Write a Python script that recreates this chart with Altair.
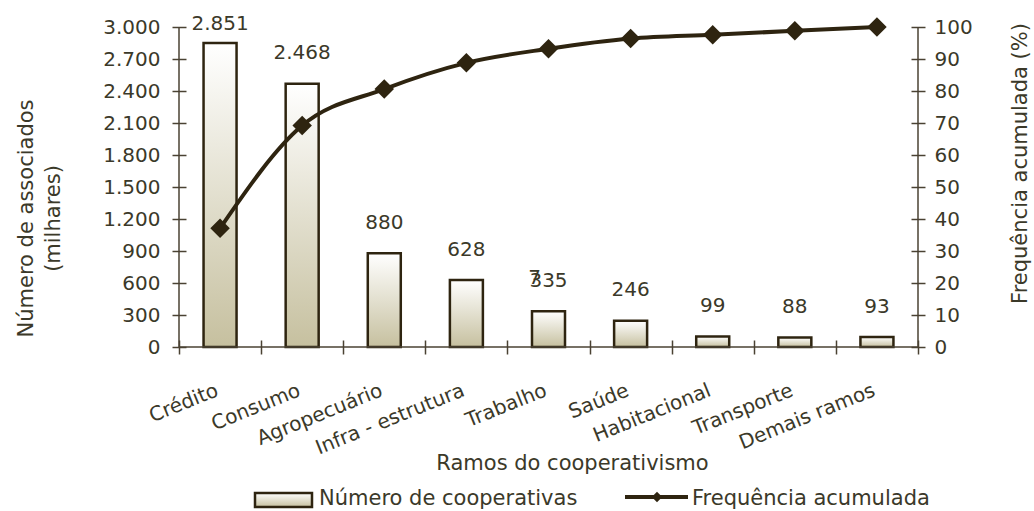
import altair as alt
import pandas as pd

# Ramos do cooperativismo e número de cooperativas (milhares de associados)
ramos = ["Crédito", "Consumo", "Agropecuário", "Infra - estrutura", "Trabalho",
         "Saúde", "Habitacional", "Transporte", "Demais ramos"]
cooperativas = [2851, 2468, 880, 628, 335, 246, 99, 88, 93]
freq_acumulada = [37.1, 69.2, 80.6, 88.8, 93.2, 96.4, 97.6, 98.8, 100.0]

ticks_esq = [0, 300, 600, 900, 1200, 1500, 1800, 2100, 2400, 2700, 3000]
ticks_dir = [0, 10, 20, 30, 40, 50, 60, 70, 80, 90, 100]

df = pd.DataFrame({"ramo": ramos, "coop": cooperativas, "freq": freq_acumulada})

W, H = 739, 320
FONT = "DejaVu Sans"
TXT = "#3b3929"
AXC = "#4a4233"
DARK = "#2e2410"
BAR_FILL = alt.LinearGradient(
    gradient="linear",
    stops=[alt.GradientStop(offset=0, color="#ffffff"),
           alt.GradientStop(offset=1, color="#c6c09f")],
    x1=0, x2=0, y1=0, y2=1,
)
PT_FMT = "replace(format(datum.value, ',d'), ',', '.')"

x_axis = alt.Axis(
    title="Ramos do cooperativismo", labelAngle=-22, labelAlign="right",
    labelBaseline="top", labelPadding=26, labelOffset=-7, offset=-7,
    tickSize=14, tickBand="extent", domain=False,
    titleX=393, titleY=123, titleAlign="center", titleBaseline="middle",
)

left_axis = alt.Axis(
    values=ticks_esq, labelExpr=PT_FMT, offset=-7, tickSize=14,
    domain=False, labelPadding=12, grid=False,
    title=["Número de associados", "(milhares)"], titleAngle=270,
    titleX=-160, titleY=191, titleAlign="center", titleBaseline="middle",
    titleLineHeight=27,
)

right_axis = alt.Axis(
    orient="right", values=ticks_dir, offset=-7, tickSize=14,
    domain=False, labelPadding=9, grid=False,
    title="Frequência acumulada (%)", titleAngle=270,
    titleX=109, titleY=136, titleAlign="center", titleBaseline="middle",
)

base = alt.Chart(df).encode(
    x=alt.X("ramo:N", sort=ramos,
            scale=alt.Scale(paddingInner=0, paddingOuter=0), axis=x_axis)
)

bars = base.mark_bar(size=33, color=BAR_FILL, stroke=DARK, strokeWidth=2.5).encode(
    y=alt.Y("coop:Q", scale=alt.Scale(domain=[0, 3000]), axis=left_axis)
)

# value labels sit above each bar, kept inside the plot at the top
labeled = base.transform_calculate(
    lbl="replace(format(datum.coop, ',d'), ',', '.')",
    pos="min(datum.coop + 190, 2935)",
)
labels = labeled.mark_text(baseline="bottom", font=FONT, fontSize=20, color=TXT).encode(
    y=alt.Y("pos:Q", scale=alt.Scale(domain=[0, 3000]), axis=left_axis),
    text="lbl:N",
)
stray = labeled.transform_filter(alt.datum.ramo == "Trabalho").mark_text(
    baseline="bottom", font=FONT, fontSize=20, color=TXT, dx=-14, dy=-3, text="7"
).encode(
    y=alt.Y("pos:Q", scale=alt.Scale(domain=[0, 3000]), axis=left_axis),
)

line = base.mark_line(interpolate="monotone", color=DARK, strokeWidth=4).encode(
    y=alt.Y("freq:Q", scale=alt.Scale(domain=[0, 100]), axis=right_axis)
)
points = base.mark_point(shape="diamond", filled=True, size=380, color=DARK, opacity=1).encode(
    y=alt.Y("freq:Q", scale=alt.Scale(domain=[0, 100]), axis=right_axis)
)

one = alt.InlineData(values=[{"k": 1}])

# axis lines drawn separately so the ticks can cross them
frame = alt.layer(
    alt.Chart(one).mark_rule(color=AXC, strokeWidth=1.5).encode(
        x=alt.value(0), y=alt.value(0), y2=alt.value(H)),
    alt.Chart(one).mark_rule(color=AXC, strokeWidth=1.5).encode(
        x=alt.value(W), y=alt.value(0), y2=alt.value(H)),
    alt.Chart(one).mark_rule(color=AXC, strokeWidth=1.5).encode(
        x=alt.value(0), x2=alt.value(W), y=alt.value(H)),
)

legend = alt.layer(
    alt.Chart(one).mark_rect(color=BAR_FILL, stroke=DARK, strokeWidth=2.5).encode(
        x=alt.value(76), x2=alt.value(133), y=alt.value(466), y2=alt.value(480)),
    alt.Chart(one).mark_text(align="left", baseline="middle", font=FONT, fontSize=21,
                             color=TXT, text="Número de cooperativas").encode(
        x=alt.value(140), y=alt.value(472)),
    alt.Chart(one).mark_rule(color=DARK, strokeWidth=4).encode(
        x=alt.value(446), x2=alt.value(509), y=alt.value(470)),
    alt.Chart(one).mark_point(shape="diamond", filled=True, size=110, color=DARK, opacity=1).encode(
        x=alt.value(478), y=alt.value(470)),
    alt.Chart(one).mark_text(align="left", baseline="middle", font=FONT, fontSize=21,
                             color=TXT, text="Frequência acumulada").encode(
        x=alt.value(513), y=alt.value(472)),
)

left = alt.layer(bars, labels, stray)
right = alt.layer(line, points)

chart = alt.layer(left, right, frame, legend).resolve_scale(y="independent").properties(
    width=W, height=H,
    autosize=alt.AutoSizeParams(type="none"),
    padding={"left": 179, "top": 27, "right": 116, "bottom": 164},
    background="white",
).configure_view(strokeWidth=0).configure_axis(
    labelFont=FONT, labelFontSize=20, labelColor=TXT,
    titleFont=FONT, titleFontSize=21, titleColor=TXT, titleFontWeight="normal",
    tickColor=AXC, tickWidth=1.5,
)

chart.save("out.html", embed_options={"renderer": "svg", "actions": False})
